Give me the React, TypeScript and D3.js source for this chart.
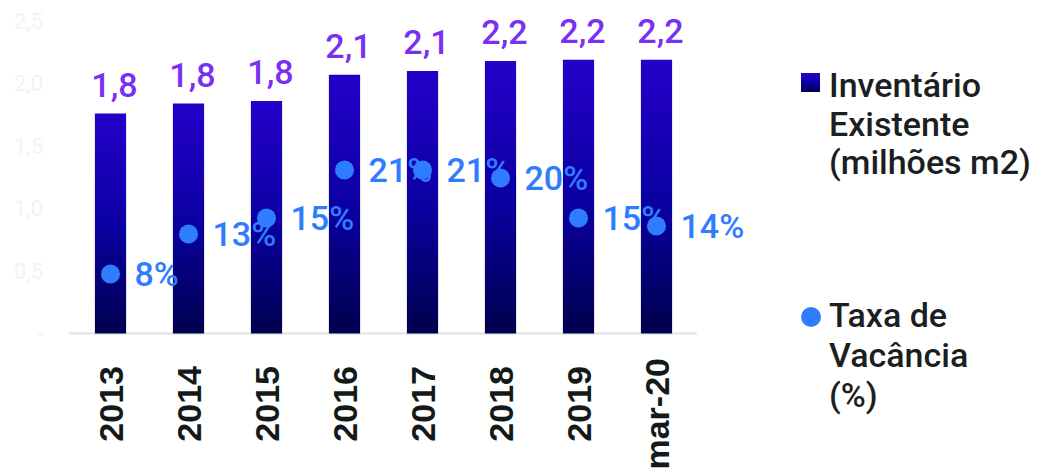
import React, { useEffect, useRef } from "react";
import * as d3 from "d3";

// chart data
const categories = ["2013", "2014", "2015", "2016", "2017", "2018", "2019", "mar-20"];
const inventario = [1.76, 1.84, 1.86, 2.07, 2.1, 2.18, 2.19, 2.19];
const inventarioLabels = ["1,8", "1,8", "1,8", "2,1", "2,1", "2,2", "2,2", "2,2"];
const vacancia = [0.08, 0.13, 0.15, 0.21, 0.21, 0.2, 0.15, 0.14];
const yTicks = [0, 0.5, 1, 1.5, 2, 2.5];
const legendBars = ["Inventário", "Existente", "(milhões m2)"];
const legendDots = ["Taxa de", "Vacância", "(%)"];

const width = 1047;
const height = 474;

export default function App() {
  const ref = useRef<SVGSVGElement>(null);

  useEffect(() => {
    const svg = d3.select(ref.current);
    svg.selectAll("*").remove();

    const x = d3.scaleBand().domain(categories).range([71.5, 695.5]).padding(0);
    const y = d3.scaleLinear().domain([0, 2.5]).range([333.5, 21]);
    const y2 = d3.scaleLinear().domain([0, 0.4]).range([338, 18]);
    const bw = x.bandwidth() * 0.4;

    const defs = svg.append("defs");
    const grad = defs
      .append("linearGradient")
      .attr("id", "barGrad")
      .attr("x1", 0)
      .attr("y1", 0)
      .attr("x2", 0)
      .attr("y2", 1);
    grad.append("stop").attr("offset", "0%").attr("stop-color", "#2500c9");
    grad.append("stop").attr("offset", "50%").attr("stop-color", "#0b00a4");
    grad.append("stop").attr("offset", "100%").attr("stop-color", "#00004e");

    // y axis ticks (very faint)
    svg
      .append("g")
      .selectAll("text")
      .data(yTicks)
      .enter()
      .append("text")
      .attr("x", 43)
      .attr("y", (d) => y(d))
      .attr("dy", "0.35em")
      .attr("text-anchor", "end")
      .attr("font-family", "Roboto")
      .attr("font-size", 22)
      .attr("fill", "#f3f3f3")
      .text((d) => (d === 0 ? "-" : d3.format(".1f")(d).replace(".", ",")));

    // baseline
    svg
      .append("line")
      .attr("x1", 69)
      .attr("x2", 697)
      .attr("y1", y(0))
      .attr("y2", y(0))
      .attr("stroke", "#dfe3e3")
      .attr("stroke-width", 2);

    // bars
    svg
      .append("g")
      .selectAll("rect")
      .data(inventario)
      .enter()
      .append("rect")
      .attr("x", (d, i) => x(categories[i])! + (x.bandwidth() - bw) / 2)
      .attr("y", (d) => y(d))
      .attr("width", bw)
      .attr("height", (d) => y(0) - y(d))
      .attr("fill", "url(#barGrad)");

    // bar value labels
    svg
      .append("g")
      .selectAll("text")
      .data(inventario)
      .enter()
      .append("text")
      .attr("x", (d, i) => x(categories[i])! + x.bandwidth() / 2 + 4)
      .attr("y", (d) => y(d) - 17)
      .attr("text-anchor", "middle")
      .attr("font-family", "Roboto")
      .attr("font-weight", 500)
      .attr("font-size", 34)
      .attr("fill", "#7a2ff5")
      .text((d, i) => inventarioLabels[i]);

    // vacancy dots
    svg
      .append("g")
      .selectAll("circle")
      .data(vacancia)
      .enter()
      .append("circle")
      .attr("cx", (d, i) => x(categories[i])! + x.bandwidth() / 2)
      .attr("cy", (d) => y2(d))
      .attr("r", 9.5)
      .attr("fill", "#2f7cff");

    svg
      .append("g")
      .selectAll("text")
      .data(vacancia)
      .enter()
      .append("text")
      .attr("x", (d, i) => x(categories[i])! + x.bandwidth() / 2 + 24)
      .attr("y", (d) => y2(d))
      .attr("dy", "0.36em")
      .attr("font-family", "Roboto")
      .attr("font-weight", 500)
      .attr("font-size", 34)
      .attr("fill", "#2f7cff")
      .text((d) => d3.format(".0%")(d));

    // category labels, rotated
    svg
      .append("g")
      .selectAll("text")
      .data(categories)
      .enter()
      .append("text")
      .attr(
        "transform",
        (d) =>
          "translate(" +
          [x(d)! + x.bandwidth() / 2, d.length > 4 ? 358 : 366] +
          ") rotate(-90)"
      )
      .attr("dy", "0.36em")
      .attr("text-anchor", "end")
      .attr("font-family", "Liberation Sans")
      .attr("font-weight", "bold")
      .attr("font-size", 34)
      .attr("fill", "#141a1a")
      .text((d) => d);

    // legend
    const legend = svg.append("g");
    legend
      .append("rect")
      .attr("x", 801)
      .attr("y", 73)
      .attr("width", 19)
      .attr("height", 19)
      .attr("fill", "url(#barGrad)");
    legend
      .selectAll(".lb")
      .data(legendBars)
      .enter()
      .append("text")
      .attr("class", "lb")
      .attr("x", 829)
      .attr("y", (d, i) => 97 + i * 38.5)
      .attr("font-family", "Roboto")
      .attr("font-weight", 500)
      .attr("font-size", 34)
      .attr("fill", "#1b1f1f")
      .text((d) => d);
    legend
      .append("circle")
      .attr("cx", 811)
      .attr("cy", 317)
      .attr("r", 10)
      .attr("fill", "#2f7cff");
    legend
      .selectAll(".ld")
      .data(legendDots)
      .enter()
      .append("text")
      .attr("class", "ld")
      .attr("x", 829)
      .attr("y", (d, i) => 327 + i * 40)
      .attr("font-family", "Roboto")
      .attr("font-weight", 500)
      .attr("font-size", 34)
      .attr("fill", "#1b1f1f")
      .text((d) => d);
  }, []);

  return (
    <svg
      ref={ref}
      width={width}
      height={height}
      style={{ position: "absolute", left: 0, top: 0, background: "#fff" }}
    ></svg>
  );
}
